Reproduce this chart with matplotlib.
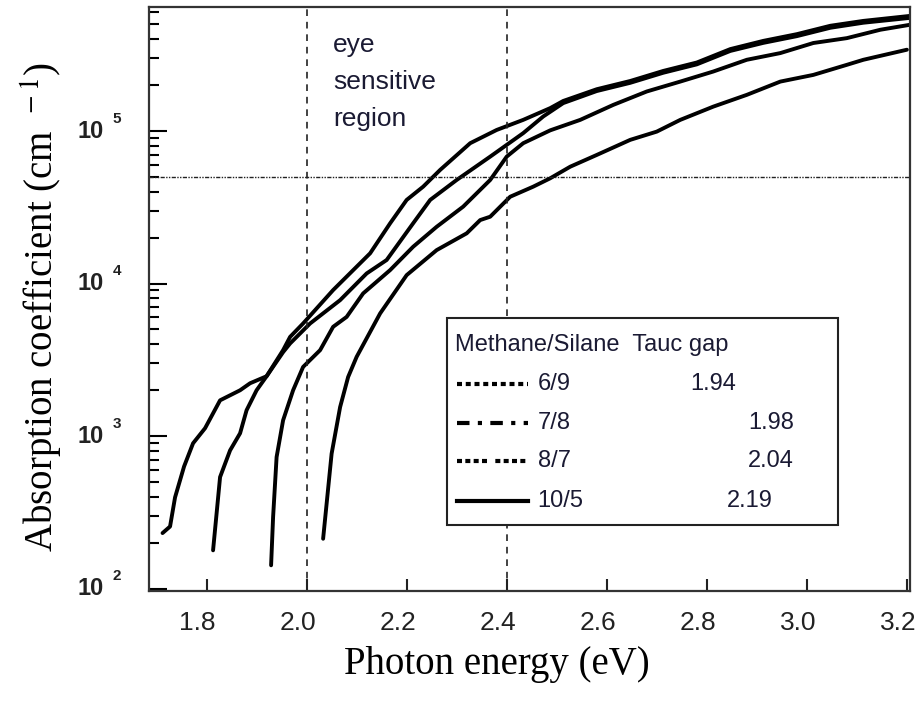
import matplotlib.pyplot as plt
import matplotlib.transforms as mtransforms
from matplotlib.lines import Line2D
from matplotlib.patches import Rectangle
from matplotlib.ticker import LogLocator, NullFormatter, FixedLocator
import numpy as np

plt.rcParams['font.family'] = ['Liberation Sans', 'DejaVu Sans']
plt.rcParams['mathtext.fontset'] = 'stix'

# photon energy (eV) and absorption coefficient (cm^-1)
e_69 = [1.712, 1.727, 1.737, 1.755, 1.773, 1.797, 1.827, 1.867, 1.887, 1.92, 1.953,
        1.967, 2.007, 2.067, 2.12, 2.16, 2.213, 2.247, 2.3, 2.367, 2.433, 2.473,
        2.513, 2.58, 2.647, 2.713, 2.78, 2.847, 2.913, 2.98, 3.047, 3.113, 3.207]
a_69 = [231, 255, 396, 631, 896, 1125, 1714, 1995, 2218, 2466, 3548,
        4046, 5470, 7780, 11640, 14260, 24830, 35320, 47750, 67920, 96830, 124500,
        152400, 182800, 207000, 241000, 273500, 335000, 378400, 418800, 475300, 512900, 552100]

e_78 = [1.813, 1.827, 1.847, 1.867, 1.88, 1.9, 1.92, 1.953, 1.967, 1.993, 2.053,
        2.127, 2.167, 2.2, 2.233, 2.267, 2.327, 2.38, 2.433, 2.487, 2.513, 2.58,
        2.647, 2.713, 2.78, 2.847, 2.913, 2.98, 3.047, 3.113, 3.207]
a_78 = [178, 538, 805, 1042, 1476, 1995, 2466, 3656, 4467, 5470, 9057,
        15780, 24830, 35320, 43150, 55590, 83180, 101600, 118300, 141300, 157400, 187900,
        212800, 247700, 281200, 344400, 389900, 431500, 489800, 527200, 568900]

e_87 = [1.929, 1.933, 1.94, 1.953, 1.973, 1.993, 2.027, 2.053, 2.08, 2.113, 2.167,
        2.213, 2.26, 2.313, 2.367, 2.4, 2.433, 2.487, 2.547, 2.613, 2.68, 2.747,
        2.813, 2.88, 2.947, 3.013, 3.08, 3.147, 3.207]
a_87 = [142, 294, 728, 1268, 1995, 2838, 3656, 5200, 6039, 8610, 12250,
        17420, 23550, 31920, 47750, 67920, 83180, 101000, 118300, 148300, 181600, 210900,
        245500, 293100, 324300, 377600, 406400, 461300, 497700]

e_105 = [2.033, 2.05, 2.067, 2.083, 2.1, 2.147, 2.2, 2.26, 2.32, 2.347, 2.367, 2.407,
         2.453, 2.487, 2.527, 2.58, 2.647, 2.7, 2.747, 2.813, 2.88, 2.947, 3.013,
         3.08, 3.113, 3.2]
a_105 = [212, 766, 1549, 2438, 3304, 6368, 11350, 16560, 21330, 26060, 27420, 37070,
         43150, 48980, 58340, 69660, 87500, 99080, 118300, 144500, 172600, 210900, 233300,
         271600, 293100, 341200]

ratios = ['6/9', '7/8', '8/7', '10/5']
tauc = ['1.94', '1.98', '2.04', '2.19']
x_ticks = [1.8, 2.0, 2.2, 2.4, 2.6, 2.8, 3.0, 3.2]
decades = [2, 3, 4, 5]
eye_bounds = [2.0, 2.4]
alpha_ref = 5e4

fig = plt.figure(figsize=(9.2, 7.03), dpi=100)
ax = fig.add_axes([0.162, 0.159, 0.827, 0.831])

for e, a in [(e_69, a_69), (e_78, a_78), (e_87, a_87), (e_105, a_105)]:
    ax.plot(e, a, color='black', lw=2.8, solid_capstyle='round', solid_joinstyle='round')

for xv in eye_bounds:
    ax.axvline(xv, color='#222222', lw=1.2, ls=(0, (4, 3.5)))
ax.axhline(alpha_ref, color='#222222', lw=1.0, ls=(0, (3, 1, 1, 1, 1, 1)))

ax.set_yscale('log')
ax.set_xlim(1.685, 3.206)
ax.set_ylim(96, 6.5e5)

ax.xaxis.set_major_locator(FixedLocator(x_ticks))
ax.set_xticklabels(['%.1f' % v for v in x_ticks], fontsize=19)
ax.yaxis.set_major_locator(LogLocator(base=10))
ax.yaxis.set_minor_locator(LogLocator(base=10, subs=range(2, 10)))
ax.yaxis.set_major_formatter(NullFormatter())
ax.yaxis.set_minor_formatter(NullFormatter())
ax.tick_params(axis='x', direction='in', length=9, width=1.5, pad=14, colors='#222222')
ax.tick_params(axis='y', which='major', direction='in', length=13, width=1.5)
ax.tick_params(axis='y', which='minor', direction='in', length=7, width=1.5)
for s in ax.spines.values():
    s.set_linewidth(1.6)
    s.set_color('#333333')

# the x tick labels sit a little left of their ticks in the original
shift = mtransforms.ScaledTranslation(-0.09, 0, fig.dpi_scale_trans)
for lab in ax.get_xticklabels():
    lab.set_transform(lab.get_transform() + shift)

# y tick labels: "10" with a raised exponent
trans = mtransforms.blended_transform_factory(ax.transAxes, ax.transData)
for d in decades:
    ax.text(-0.06, 10.0 ** d, '10', transform=trans, ha='right', va='center',
            fontsize=17, color='#222222', fontweight='bold')
    ax.text(-0.048, 10.0 ** d * 1.2, str(d), transform=trans, ha='left', va='center',
            fontsize=11, color='#222222', fontweight='bold')

ax.set_xlabel('Photon energy (eV)', fontfamily='Liberation Serif', fontsize=28)
ax.xaxis.set_label_coords(0.457, -0.094)
ax.set_ylabel(r'Absorption coefficient (cm$^{\ \ -1}$)', fontfamily='Liberation Serif', fontsize=28)
ax.yaxis.set_label_coords(-0.11, 0.486)

ax.text(2.053, 2.1e5, 'eye\nsensitive\nregion', fontsize=19, color='#1a1a33',
        ha='left', va='center', linespacing=1.68)

# legend box drawn by hand
ax.add_patch(Rectangle((0.3916, 0.113), 0.5138, 0.3545, transform=ax.transAxes,
                       facecolor='white', edgecolor='#222222', lw=1.5, zorder=5))
ax.text(0.402, 0.4212, 'Methane/Silane  Tauc gap', transform=ax.transAxes,
        fontsize=17, color='#1a1a33', va='center', ha='left', zorder=6)
row_y = [0.3545, 0.2877, 0.2226, 0.1541]
styles = [(0, (1.2, 0.9)), (0, (3, 2, 1, 2)), (0, (1.2, 0.8, 1.2, 0.8, 1.2, 0.8, 1.2, 2)), '-']
tauc_x = [0.7109, 0.787, 0.787, 0.7595]
for yy, st, r, t, tx in zip(row_y, styles, ratios, tauc, tauc_x):
    ax.add_line(Line2D([0.4047, 0.498], [yy, yy], transform=ax.transAxes,
                       color='black', lw=3, ls=st, zorder=6))
    ax.text(0.5107, yy, r, transform=ax.transAxes, fontsize=17, color='#1a1a33',
            va='center', ha='left', zorder=6)
    ax.text(tx, yy, t, transform=ax.transAxes, fontsize=17, color='#1a1a33',
            va='center', ha='left', zorder=6)

fig.savefig('out.png', dpi=100)
